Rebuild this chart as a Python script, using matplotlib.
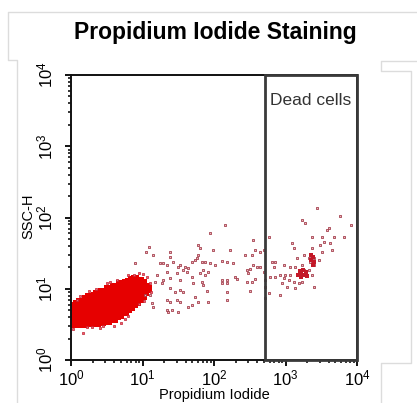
import matplotlib
matplotlib.use("Agg")
import matplotlib.pyplot as plt
from matplotlib.lines import Line2D
from matplotlib.patches import Rectangle
from matplotlib.ticker import LogLocator, FuncFormatter, NullFormatter
import numpy as np

plt.rcParams['font.family'] = ['Liberation Sans', 'DejaVu Sans']
plt.rcParams['mathtext.default'] = 'regular'

# events are kept as log10 decades (PI fluorescence, side scatter)
# main live population
blob_lx = [0.00, 0.00, 0.01, 0.01, 0.04, 0.05, 0.04, 0.05, 0.08, 0.08, 0.09, 0.08,
           0.12, 0.12, 0.13, 0.12, 0.13, 0.16, 0.17, 0.16, 0.16, 0.20, 0.21, 0.20, 0.20, 0.21,
           0.24, 0.24, 0.25, 0.24, 0.25, 0.28, 0.29, 0.28, 0.28, 0.29, 0.32, 0.33, 0.32, 0.32, 0.33,
           0.36, 0.36, 0.37, 0.36, 0.37, 0.36, 0.40, 0.41, 0.40, 0.40, 0.41,
           0.44, 0.45, 0.44, 0.44, 0.45, 0.44, 0.48, 0.49, 0.48, 0.48, 0.49,
           0.52, 0.53, 0.52, 0.52, 0.53, 0.52, 0.56, 0.57, 0.56, 0.56, 0.57,
           0.60, 0.61, 0.60, 0.60, 0.61, 0.60, 0.64, 0.65, 0.64, 0.64, 0.65,
           0.68, 0.69, 0.68, 0.68, 0.69, 0.68, 0.72, 0.73, 0.72, 0.72, 0.73,
           0.76, 0.77, 0.76, 0.76, 0.77, 0.80, 0.81, 0.80, 0.80, 0.81,
           0.84, 0.85, 0.84, 0.84, 0.85, 0.88, 0.89, 0.88, 0.88, 0.89,
           0.92, 0.93, 0.92, 0.92, 0.96, 0.97, 0.96, 0.96, 1.00, 1.01, 1.00,
           1.04, 1.05, 1.08]
blob_ly = [0.52, 0.76, 0.61, 0.69, 0.50, 0.57, 0.66, 0.74, 0.53, 0.62, 0.71, 0.79,
           0.51, 0.58, 0.67, 0.76, 0.82, 0.53, 0.61, 0.71, 0.79, 0.51, 0.59, 0.68, 0.77, 0.85,
           0.54, 0.63, 0.73, 0.82, 0.88, 0.52, 0.60, 0.69, 0.79, 0.86, 0.54, 0.62, 0.72, 0.81, 0.90,
           0.52, 0.60, 0.70, 0.80, 0.88, 0.93, 0.55, 0.64, 0.75, 0.84, 0.92,
           0.53, 0.61, 0.71, 0.81, 0.90, 0.96, 0.56, 0.66, 0.77, 0.87, 0.95,
           0.55, 0.63, 0.74, 0.84, 0.93, 0.99, 0.58, 0.68, 0.79, 0.89, 0.98,
           0.58, 0.66, 0.77, 0.87, 0.96, 1.02, 0.62, 0.71, 0.82, 0.92, 1.00,
           0.63, 0.72, 0.83, 0.93, 1.02, 1.06, 0.67, 0.76, 0.87, 0.97, 1.05,
           0.68, 0.78, 0.89, 0.99, 1.08, 0.72, 0.81, 0.92, 1.02, 1.10,
           0.75, 0.84, 0.95, 1.05, 1.12, 0.78, 0.87, 0.98, 1.07, 1.13,
           0.82, 0.91, 1.01, 1.10, 0.86, 0.95, 1.05, 1.11, 0.90, 0.99, 1.08,
           0.95, 1.02, 0.99]

# loose events around the live population
fringe_lx = [0.17, 0.03, 0.60, 0.25, 0.50, 0.80, 0.95, 1.10, 1.12, 0.95, 0.80, 0.70,
             0.40, 0.12, 0.65, 0.30, 1.06, 0.08, 0.35, 0.55, 0.88, 1.02, 0.22, 0.45,
             0.75, 1.00]
fringe_ly = [0.38, 0.43, 0.48, 0.97, 1.08, 1.20, 1.22, 1.08, 0.95, 0.78, 0.62, 0.52,
             0.45, 0.90, 1.12, 0.46, 1.17, 0.84, 0.99, 1.10, 1.19, 0.83, 0.47, 0.48,
             0.58, 1.21]

# sparse events left of the gate
live_lx = [1.09, 1.05, 1.15, 0.90, 1.24, 1.34, 1.43, 1.38, 1.38, 1.50, 1.57, 1.64, 1.69, 1.76,
           1.78, 1.20, 1.29, 1.38, 1.45, 1.34, 1.38, 1.52, 1.50, 1.36, 1.69, 1.71, 1.73, 1.69,
           1.10, 1.15, 1.29, 1.52, 1.59, 1.73, 1.34, 1.48, 1.62, 1.38, 1.17, 1.27, 1.52, 1.52,
           1.57, 1.13, 1.48, 1.34, 1.41, 1.64, 1.03,
           2.15, 1.94, 1.78, 1.80, 1.99, 2.22, 2.55, 2.43, 2.53, 2.57, 2.64, 1.83, 1.87, 1.94,
           2.11, 2.18, 2.27, 2.01, 2.55, 2.60, 2.64, 2.50, 2.46, 1.85, 1.92, 1.80, 1.87, 2.29,
           2.32, 2.48, 1.83, 1.85, 2.11, 2.18, 2.11, 2.18, 2.46, 2.53, 2.57, 1.90, 2.18, 2.50,
           1.78, 1.92, 2.18, 2.70, 2.70, 2.71, 2.71, 2.71]
live_ly = [1.59, 1.52, 1.47, 1.36, 1.36, 1.33, 1.37, 1.45, 1.52, 1.31, 1.26, 1.29, 1.37, 1.43,
           1.47, 1.19, 1.12, 1.01, 0.95, 0.84, 0.81, 0.81, 0.67, 0.67, 1.16, 1.08, 0.88, 0.77,
           0.91, 0.74, 1.36, 1.33, 1.31, 1.40, 1.24, 1.22, 1.24, 1.15, 1.09, 1.08, 1.12, 0.98,
           0.95, 0.80, 0.84, 0.70, 0.70, 0.74, 0.91,
           1.89, 1.78, 1.61, 1.57, 1.54, 1.54, 1.68, 1.47, 1.47, 1.54, 1.52, 1.38, 1.38, 1.36,
           1.39, 1.38, 1.36, 1.33, 1.33, 1.31, 1.31, 1.28, 1.26, 1.26, 1.24, 1.22, 1.19, 1.16,
           1.14, 1.22, 1.09, 1.05, 1.12, 1.12, 1.08, 1.08, 1.09, 1.09, 1.14, 0.97, 0.95, 0.97,
           0.81, 0.81, 0.84, 1.54, 1.24, 1.12, 1.02, 0.87]

# events inside the dead-cell gate
dead_lx = [3.44, 3.76, 3.23, 3.27, 3.92, 3.61, 3.58, 2.77, 3.37, 3.51, 3.68, 3.82, 3.54, 3.48,
           3.62, 3.09, 3.12, 3.37, 3.51, 3.65, 3.26, 3.16, 3.33, 3.40, 3.34, 3.47, 3.40, 3.23,
           2.81, 2.85, 2.84, 2.98, 3.06, 3.13, 3.26, 3.33, 3.20, 3.16, 3.06, 2.99, 2.92, 2.85,
           2.78, 2.98, 3.05, 3.12, 3.19, 3.23, 3.37, 3.40, 3.13, 3.02, 2.95, 2.77, 2.92]
dead_ly = [2.13, 2.02, 1.96, 1.92, 1.89, 1.85, 1.82, 1.73, 1.73, 1.73, 1.73, 1.73, 1.66, 1.61,
           1.64, 1.64, 1.57, 1.57, 1.52, 1.54, 1.47, 1.43, 1.43, 1.43, 1.37, 1.40, 1.33, 1.33,
           1.37, 1.37, 1.31, 1.33, 1.31, 1.31, 1.26, 1.26, 1.22, 1.19, 1.19, 1.19, 1.19, 1.16,
           1.16, 1.15, 1.12, 1.09, 1.08, 1.09, 1.19, 1.02, 1.01, 1.02, 1.08, 0.94, 0.91]

# tight cluster of dead cells
clump_lx = [3.18, 3.22, 3.26, 3.20, 3.24, 3.28, 3.30, 3.22, 3.35, 3.38, 3.36, 3.40, 3.38]
clump_ly = [1.20, 1.22, 1.20, 1.25, 1.27, 1.24, 1.18, 1.16, 1.40, 1.44, 1.47, 1.38, 1.34]

gate_low = 520
axis_max = 1e4

fig = plt.figure(figsize=(4.17, 4.03), dpi=100)
ax = fig.add_axes([71 / 417, 1 - 360 / 403, 286 / 417, 285 / 403])

def dec(v):
    return 10 ** np.array(v)

ax.scatter(dec(blob_lx), dec(blob_ly), marker='s', s=28, color='#e60000', linewidths=0)
ax.scatter(dec(fringe_lx), dec(fringe_ly), marker='s', s=4.5, facecolor='#f06070',
           edgecolor='#c02030', linewidths=0.5)
ax.scatter(dec(live_lx), dec(live_ly), marker='s', s=4.5, facecolor='#f0b4bc',
           edgecolor='#9c3442', linewidths=0.55)
ax.scatter(dec(dead_lx), dec(dead_ly), marker='s', s=4.5, facecolor='#f0b4bc',
           edgecolor='#9c3442', linewidths=0.55)
ax.scatter(dec(clump_lx), dec(clump_ly), marker='s', s=7, color='#c41828', linewidths=0)

ax.set_xscale('log')
ax.set_yscale('log')
ax.set_xlim(1, axis_max)
ax.set_ylim(1, axis_max)

# dead cells gate
ax.add_patch(Rectangle((gate_low, 1), axis_max - gate_low, axis_max - 1, fill=False,
                       edgecolor='#3a3a3a', linewidth=2, clip_on=False, zorder=5))
ax.text(0.697, 0.91, 'Dead cells', transform=ax.transAxes, fontsize=12.5,
        color='#333333', ha='left', va='center')

fmt = FuncFormatter(lambda v, pos: r'10$^{%d}$' % round(np.log10(v)))
for axis in (ax.xaxis, ax.yaxis):
    axis.set_major_locator(LogLocator(base=10, numticks=10))
    axis.set_minor_locator(LogLocator(base=10, subs=np.arange(2, 10), numticks=10))
    axis.set_major_formatter(fmt)
    axis.set_minor_formatter(NullFormatter())

ax.tick_params(which='major', direction='out', length=4, width=1.3, labelsize=12)
ax.tick_params(which='minor', direction='out', length=2.5, width=1.1)
ax.tick_params(axis='y', pad=7)
ax.tick_params(axis='x', pad=2)
for lab in ax.get_yticklabels():
    lab.set_rotation(90)
    lab.set_va('center')

for s in ax.spines.values():
    s.set_linewidth(1.4)
    s.set_color('#111111')

ax.set_xlabel('Propidium Iodide', fontsize=10.5, labelpad=0)
ax.set_ylabel('SSC-H', fontsize=10.5)
ax.yaxis.set_label_coords(-0.125, 0.505)

fig.text(215 / 417, 1 - 33 / 403, 'Propidium Iodide Staining', ha='center', va='center',
         fontsize=16.5, fontweight='bold')

# light panel outlines
def frame(xs, ys):
    fig.add_artist(Line2D([x / 417 for x in xs], [1 - y / 403 for y in ys],
                          color='#dcdcdc', linewidth=1))

frame([417, 8, 8, 17, 17], [12, 12, 60, 60, 403])
frame([417, 381, 381, 411, 411, 381, 381], [61, 61, 71, 71, 363, 363, 403])

fig.savefig('out.png', dpi=100)
